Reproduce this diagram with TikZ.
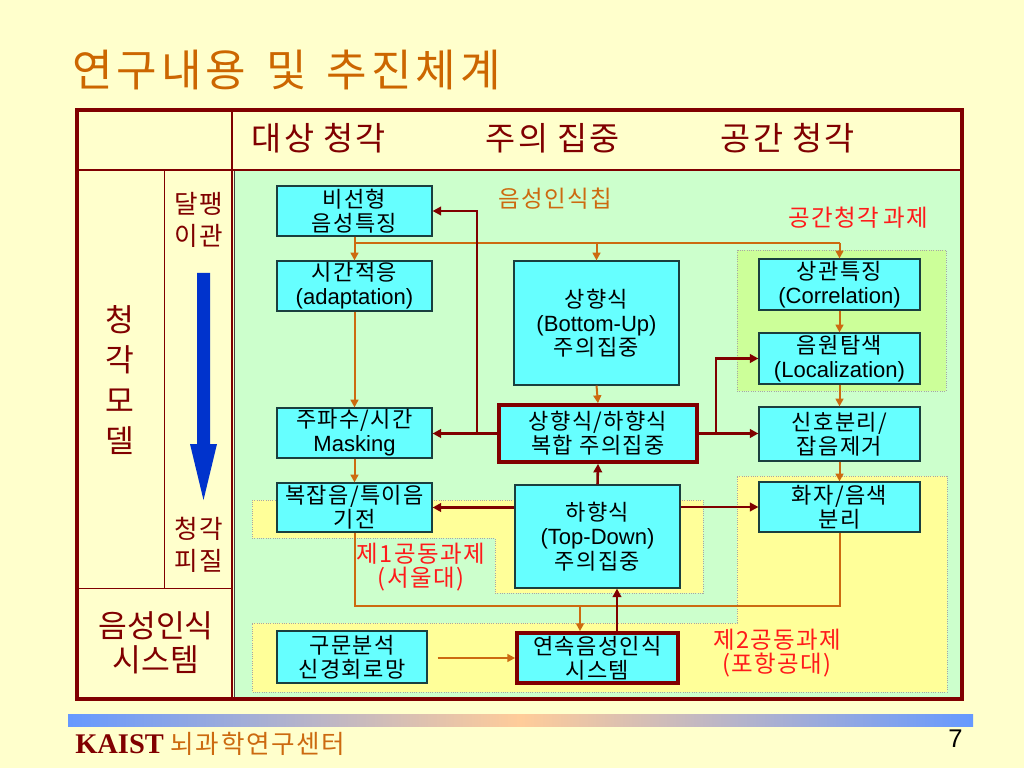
\documentclass[tikz,border=0pt]{standalone}
\usepackage{fontspec}
\setmainfont{Noto Sans CJK KR}
\newfontfamily\ar{Liberation Sans}
\newfontfamily\tm{Liberation Serif}
\newfontfamily\krsp[LetterSpace=6]{Noto Sans CJK KR}
\newfontfamily\krwide[LetterSpace=9]{Noto Sans CJK KR}
\usetikzlibrary{arrows.meta}
\definecolor{bgy}{HTML}{FFFFCC}
\definecolor{greenbg}{HTML}{CCFFCC}
\definecolor{limebg}{HTML}{CCFF99}
\definecolor{yelbg}{HTML}{FFFF99}
\definecolor{cyanbox}{HTML}{66FFFF}
\definecolor{boxline}{HTML}{1A3F3F}
\definecolor{dred}{HTML}{800000}
\definecolor{orng}{HTML}{CC6A10}
\definecolor{ttl}{HTML}{CC6600}
\definecolor{bluearr}{HTML}{0033CC}
\definecolor{barblue}{HTML}{6699FF}
\definecolor{barpeach}{HTML}{FFCC99}
\definecolor{redtxt}{HTML}{FF1A1A}
\tikzset{
  sz/.style 2 args={minimum width=#1*0.703125pt, minimum height=#2*0.703125pt},
  box/.style={draw=boxline, fill=cyanbox, line width=0.8pt, inner sep=0pt, align=center,
    font=\krsp\fontsize{15.5}{17}\selectfont, text=black,
    execute at begin node={\rule{0pt}{17.5pt}}},
  tbox/.style={box, draw=dred, line width=2.6pt},
  oline/.style={draw=orng, line width=1.4pt},
  oarr/.style={oline, -{Triangle[length=5.5pt,width=5.5pt]}},
  rarr/.style={draw=dred, line width=1.8pt, -{Triangle[length=6pt,width=6pt]}},
  hdr/.style={text=dred, font=\krsp\fontsize{23}{24}\selectfont, inner sep=0pt},
  lcol/.style={text=dred, align=center, inner sep=0pt},
  redlab/.style={text=redtxt, align=center, inner sep=0pt, font=\krsp\fontsize{16.5}{17}\selectfont},
  region/.style={draw=gray!70, densely dotted, line width=0.6pt}
}
\begin{document}
\begin{tikzpicture}[x=0.703125pt, y=-0.703125pt]
\useasboundingbox (0,0) rectangle (1024,768);
\fill[bgy] (0,0) rectangle (1024,768);
% title
\node[anchor=west, text=ttl, font=\krwide\fontsize{31}{32}\selectfont, inner sep=0pt] (title) at (72,70) {연구내용\hspace{0.45em}및\hspace{0.45em}추진체계};
% green area
\fill[greenbg] (234,171) rectangle (961,698);
\draw[black!75, line width=0.6pt] (234.5,171) -- (234.5,698);
% regions
\filldraw[fill=limebg, region] (737,250) rectangle (946,391);
\filldraw[fill=yelbg, region] (252,500) -- (703,500) -- (703,593) -- (495,593) -- (495,538) -- (252,538) -- cycle;
\filldraw[fill=yelbg, region] (737,476) -- (947,476) -- (947,692) -- (252,692) -- (252,623) -- (737,623) -- cycle;
% table lines
\draw[dred, line width=1.5pt] (77,170) -- (962,170);
\draw[dred, line width=1.6pt] (232,110) -- (232,699);
\draw[dred, line width=0.6pt] (164,170) -- (164,588);
\draw[dred, line width=0.6pt] (77,588) -- (232,588);
\draw[dred, line width=2.2pt] (77,110) rectangle (962,699);
% header texts
\node[hdr] (h1) at (319,138) {대상\hspace{0.3em}청각};
\node[hdr] (h2) at (553,138) {주의\hspace{0.3em}집중};
\node[hdr] (h3) at (788,138) {공간\hspace{0.3em}청각};
% left column
\node[lcol, font=\krsp\fontsize{18}{23}\selectfont] (l1) at (199,220) {달팽\\이관};
\node[lcol, font=\krsp\fontsize{18}{23}\selectfont] (l2) at (199,545) {청각\\피질};
\node[lcol, font=\fontsize{22}{28.2}\selectfont] (l3) at (120,380) {청\\각\\모\\델};
\node[lcol, font=\fontsize{22}{24}\selectfont] (l4) at (156,643) {음성인식\\시스템};
\fill[bluearr] (197,273) -- (210,273) -- (210,444) -- (217,444) -- (203.5,500) -- (190,444) -- (197,444) -- cycle;
% boxes
\node[box, sz={155}{50}] (b1) at (354.5,211) {비선형\\음성특징};
\node[box, sz={155}{50}] (b2) at (354.5,286) {시간적응\\{\ar (adaptation)}};
\node[box, sz={155}{50}] (b3) at (354.5,433) {주파수/시간\\{\ar Masking}};
\node[box, sz={155}{49}] (b4) at (354.5,507.5) {복잡음/특이음\\기전};
\node[box, sz={150}{52}] (b5) at (352,657) {구문분석\\신경회로망};
\node[box, sz={165}{124}] (b6) at (596.5,323) {상향식\\{\ar (Bottom-Up)}\\주의집중};
\node[tbox, sz={198}{57}] (b7) at (598,433.5) {상향식/하향식\\복합 주의집중};
\node[box, sz={165}{103}] (b8) at (597.5,536.5) {하향식\\{\ar (Top-Down)}\\주의집중};
\node[tbox, sz={161}{50}] (b9) at (597.5,658) {연속음성인식\\시스템};
\node[box, sz={161}{51}] (b10) at (839.5,284.5) {상관특징\\{\ar (Correlation)}};
\node[box, sz={161}{51}] (b11) at (839.5,358.5) {음원탐색\\{\ar (Localization)}};
\node[box, sz={161}{54}] (b12) at (839.5,434) {신호분리/\\잡음제거};
\node[box, sz={161}{50}] (b13) at (839.5,507) {화자/음색\\분리};
% orange connectors
\coordinate (j1) at (354,243);
\coordinate (j2) at (354,606);
\coordinate (j3) at (580,606);
\draw[oarr] (b1.south) -- (b2.north);
\draw[oline] (b1.south |- j1) -- (j1 -| b10.north);
\draw[oarr] (j1 -| b6.north) -- (b6.north);
\draw[oarr] (j1 -| b10.north) -- (b10.north);
\draw[oarr] (b2.south) -- (b3.north);
\draw[oarr] (b3.south) -- (b4.north);
\draw[oline] (b4.south) |- (j2 -| b13.south) -- (b13.south);
\draw[oarr] (j3) -- (j3 |- b9.north);
\draw[oarr] (b6.south) -- (b7.north);
\draw[oarr] (b10.south) -- (b11.north);
\draw[oarr] (b11.south) -- (b12.north);
\draw[oarr] (b12.south) -- (b13.north);
\draw[oarr] ([xshift=7pt]b5.east |- b9.west) -- (b9.west);
% dark red connectors
\coordinate (k1) at (477,433);
\coordinate (k2) at (716,433);
\coordinate (k3) at (617,610);
\draw[rarr] (b7.west) -- (b7.west -| b3.east);
\draw[rarr] (b7.west -| k1) |- (b1.east);
\draw[rarr] (b7.east) -- (b7.east -| b12.west);
\draw[rarr] (b7.east -| k2) |- (b11.west);
\draw[rarr] (b8.north) -- (b7.south);
\draw[rarr] (b8.west |- b4.east) -- (b4.east);
\draw[rarr] (b8.east |- b13.west) -- (b13.west);
\draw[rarr] (b9.north -| k3) -- (b8.south -| k3);
% labels
\node[text=orng, inner sep=0pt, font=\krsp\fontsize{16.5}{17}\selectfont] (chip) at (555,199) {음성인식칩};
\node[redlab] (r1) at (858,218) {공간청각\hspace{0.2em}과제};
\node[redlab] (r2) at (421,567) {제1공동과제\\(서울대)};
\node[redlab] (r3) at (777,653) {제2공동과제\\(포항공대)};
% footer
\shade[left color=barblue, right color=barblue, middle color=barpeach] (68,714) rectangle (973,726);
\node[anchor=base west, inner sep=0pt] (foot) at (75,753) {{\tm\bfseries\color{dred}\fontsize{20}{20}\selectfont KAIST}\hspace{5pt}{\color{orng}\addfontfeature{LetterSpace=6}\fontsize{18}{18}\selectfont 뇌과학연구센터}};
\node[anchor=base east, inner sep=0pt] (pg) at (963,747) {\ar\fontsize{18}{18}\selectfont 7};
\end{tikzpicture}
\end{document}
